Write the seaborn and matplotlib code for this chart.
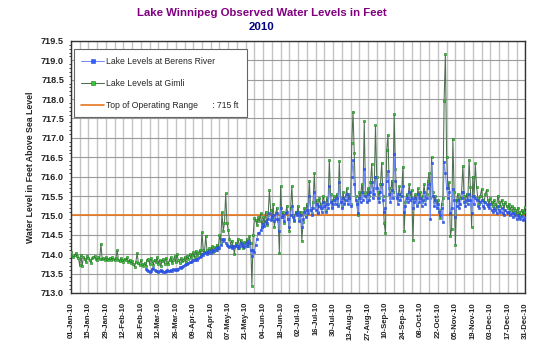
import pandas as pd
import numpy as np
import matplotlib
matplotlib.use("Agg")
import matplotlib.pyplot as plt
import matplotlib.dates as mdates
from matplotlib.ticker import MultipleLocator, FormatStrFormatter, FixedLocator
import seaborn as sns

# ---------------------------------------------------------------
# DATA  (daily water levels, feet above sea level)
# ---------------------------------------------------------------
gimli_jan = [714.05, 713.95, 713.92, 713.98, 714.03, 713.95, 713.90, 713.72, 713.97, 713.70,
             713.93, 713.88, 713.80, 713.96, 713.90, 713.85, 713.78, 713.90, 713.93, 713.95,
             713.88, 713.86, 713.92, 713.88, 714.27, 713.88, 713.90, 713.86, 713.92, 713.88, 713.85]
gimli_feb = [713.90, 713.85, 713.92, 713.88, 713.84, 713.90, 714.10, 713.86, 713.82, 713.90,
             713.85, 713.80, 713.88, 713.84, 713.92, 713.80, 713.86, 713.78, 713.82, 713.74,
             713.68, 713.80, 714.03, 713.78, 713.72, 713.85, 713.76, 713.70]
gimli_mar = [713.78, 713.70, 713.85, 713.88, 713.75, 713.90, 713.82, 713.72, 713.86, 713.80,
             713.92, 713.75, 713.85, 713.70, 713.82, 713.88, 713.76, 713.90, 713.80, 713.74,
             713.86, 713.92, 713.78, 713.84, 713.95, 713.80, 714.00, 713.85, 713.78, 713.90, 713.82]
gimli_apr = [713.85, 713.92, 713.80, 713.95, 713.88, 714.00, 713.90, 713.98, 714.05, 713.92,
             714.08, 713.98, 714.02, 714.10, 714.00, 714.56, 714.12, 714.05, 714.48, 714.10,
             714.02, 714.15, 714.08, 714.20, 714.05, 714.18, 714.12, 714.25, 714.15, 714.49]
gimli_may = [714.30, 715.08, 714.60, 714.80, 715.57, 714.80, 714.63, 714.40, 714.25, 714.35,
             714.20, 714.01, 714.30, 714.22, 714.40, 714.15, 714.37, 714.28, 714.17, 714.32,
             714.25, 714.40, 714.20, 714.46, 714.30, 713.19, 714.50, 714.93, 714.88, 714.76, 714.95]
gimli_jun = [714.85, 715.05, 714.70, 714.95, 714.80, 715.10, 714.75, 715.00, 715.65, 715.15,
             714.90, 715.30, 714.70, 715.05, 715.20, 714.85, 714.04, 715.75, 714.95, 715.10,
             714.80, 715.05, 715.25, 714.90, 714.60, 715.20, 715.76, 715.00, 714.85, 715.10]
gimli_jul = [715.05, 715.25, 714.90, 715.10, 714.35, 714.84, 715.20, 715.00, 715.30, 715.15,
             715.90, 715.20, 715.05, 715.35, 716.09, 715.25, 715.40, 715.10, 715.45, 715.30,
             715.20, 715.50, 715.35, 715.15, 715.45, 715.30, 716.43, 715.55, 715.25, 715.40, 715.50]
gimli_aug = [715.40, 715.55, 715.30, 716.41, 715.45, 715.25, 715.60, 715.35, 715.50, 715.70,
             715.40, 715.55, 715.30, 716.86, 717.68, 716.60, 715.50, 715.35, 715.00, 715.60,
             715.45, 715.80, 715.55, 717.43, 715.60, 715.40, 715.70, 715.50, 715.85, 716.33, 715.55]
gimli_sep = [715.70, 717.32, 716.00, 715.60, 715.45, 715.80, 716.36, 715.50, 714.80, 714.54,
             716.69, 717.08, 715.70, 715.45, 715.90, 715.60, 717.61, 716.20, 715.55, 715.40,
             715.75, 715.50, 715.60, 716.26, 714.61, 715.35, 715.55, 715.45, 715.80, 715.50]
gimli_oct = [715.65, 714.36, 715.40, 715.55, 715.30, 715.70, 715.45, 715.60, 715.35, 715.50,
             715.80, 715.40, 715.55, 715.90, 716.09, 715.45, 716.50, 715.60, 715.35, 715.50,
             715.25, 715.40, 715.15, 714.93, 715.30, 715.45, 717.96, 719.17, 716.50, 715.70, 715.85]
gimli_nov = [714.46, 714.65, 716.98, 715.60, 714.25, 715.40, 715.55, 715.30, 715.45, 715.60,
             716.28, 715.50, 715.35, 715.55, 715.40, 716.43, 715.74, 714.71, 716.00, 715.50,
             716.34, 715.74, 715.45, 715.30, 715.50, 715.68, 715.40, 715.35, 715.55, 715.66]
gimli_dec = [715.40, 715.30, 715.45, 715.35, 715.25, 715.40, 715.30, 715.20, 715.51, 715.35,
             715.25, 715.40, 715.30, 715.15, 715.35, 715.25, 715.20, 715.30, 715.15, 715.25,
             715.10, 715.20, 715.15, 715.05, 715.20, 715.10, 715.00, 715.15, 715.05, 715.10, 715.23]

# Berens River gauge starts on 02-Mar-10
berens_mar = [713.62, 713.60, 713.58, 713.55, 713.57, 713.62, 713.64, 713.60, 713.58, 713.56,
              713.55, 713.57, 713.60, 713.58, 713.55, 713.54, 713.57, 713.59, 713.56, 713.58,
              713.60, 713.58, 713.61, 713.59, 713.62, 713.60, 713.63, 713.66, 713.64, 713.68]
berens_apr = [713.70, 713.72, 713.75, 713.74, 713.78, 713.80, 713.79, 713.83, 713.85, 713.84,
              713.88, 713.86, 713.90, 713.92, 713.95, 714.00, 713.97, 714.02, 714.05, 714.00,
              714.06, 714.08, 714.03, 714.10, 714.12, 714.08, 714.15, 714.12, 714.18, 714.16]
berens_may = [714.25, 714.40, 714.35, 714.38, 714.30, 714.25, 714.22, 714.18, 714.20, 714.15,
              714.22, 714.18, 714.25, 714.20, 714.15, 714.22, 714.28, 714.20, 714.25, 714.18,
              714.30, 714.22, 714.35, 714.28, 714.10, 713.96, 714.11, 714.05, 714.25, 714.40, 714.55]
berens_jun = [714.55, 714.62, 714.70, 714.78, 714.72, 714.85, 714.80, 714.90, 715.05, 714.88,
              714.95, 715.00, 714.85, 714.92, 715.05, 714.90, 714.60, 715.20, 714.95, 715.00,
              714.85, 715.05, 715.10, 714.90, 714.70, 715.00, 715.25, 714.95, 714.88, 715.05]
berens_jul = [715.00, 715.10, 714.85, 715.00, 714.70, 714.90, 715.10, 714.95, 715.15, 715.05,
              715.50, 715.15, 715.00, 715.20, 715.60, 715.15, 715.30, 715.05, 715.25, 715.20,
              715.10, 715.35, 715.25, 715.10, 715.30, 715.20, 715.75, 715.35, 715.20, 715.30, 715.40]
berens_aug = [715.30, 715.45, 715.25, 715.85, 715.35, 715.20, 715.45, 715.30, 715.40, 715.55,
              715.30, 715.45, 715.25, 716.00, 716.43, 715.80, 715.40, 715.30, 715.05, 715.45,
              715.35, 715.60, 715.40, 716.21, 715.50, 715.35, 715.55, 715.40, 715.60, 715.85, 715.45]
berens_sep = [715.55, 716.00, 715.70, 715.45, 715.35, 715.60, 715.80, 715.40, 715.08, 715.20,
              715.90, 716.15, 715.55, 715.35, 715.65, 715.45, 716.58, 715.90, 715.45, 715.30,
              715.55, 715.40, 715.50, 715.75, 715.10, 715.25, 715.45, 715.35, 715.60, 715.40]
berens_oct = [715.45, 715.20, 715.35, 715.45, 715.25, 715.55, 715.35, 715.45, 715.25, 715.40,
              715.60, 715.30, 715.45, 715.70, 715.80, 714.90, 716.35, 715.50, 715.25, 715.40,
              715.20, 715.30, 715.10, 715.00, 715.20, 714.83, 716.39, 716.10, 715.70, 715.45, 715.60]
berens_nov = [715.05, 715.20, 715.69, 715.40, 714.95, 715.25, 715.40, 715.20, 715.30, 715.45,
              715.60, 715.35, 715.25, 715.40, 715.30, 715.55, 715.40, 715.05, 715.50, 715.30,
              715.45, 715.40, 715.25, 715.20, 715.35, 715.40, 715.25, 715.20, 715.35, 715.30]
berens_dec = [715.25, 715.20, 715.30, 715.15, 715.10, 715.20, 715.15, 715.05, 715.25, 715.15,
              715.10, 715.20, 715.05, 715.00, 715.15, 715.10, 715.05, 715.10, 715.00, 715.05,
              714.95, 715.05, 715.00, 714.90, 715.00, 714.95, 714.90, 714.98, 714.88, 714.92, 714.95]

operating_top = 715.0

gimli = (gimli_jan + gimli_feb + gimli_mar + gimli_apr + gimli_may + gimli_jun +
         gimli_jul + gimli_aug + gimli_sep + gimli_oct + gimli_nov + gimli_dec)
berens = (berens_mar + berens_apr + berens_may + berens_jun + berens_jul +
          berens_aug + berens_sep + berens_oct + berens_nov + berens_dec)

gimli_df = pd.DataFrame({"date": pd.date_range("2010-01-01", periods=len(gimli), freq="D"),
                         "level": gimli})
berens_df = pd.DataFrame({"date": pd.date_range("2010-03-02", periods=len(berens), freq="D"),
                          "level": berens})

# ---------------------------------------------------------------
# PLOT
# ---------------------------------------------------------------
sns.set_style("white")
plt.rcParams["font.family"] = ["Liberation Sans", "DejaVu Sans"]

fig = plt.figure(figsize=(5.5, 3.53), dpi=100)
ax = fig.add_axes([0.129, 0.170, 0.826, 0.714])

# Gimli drawn first so the Berens band shows through, as in the original
sns.lineplot(data=gimli_df, x="date", y="level", ax=ax, color="#4f6f52", lw=0.75,
             marker="s", markersize=2.1, markerfacecolor="#36c936",
             markeredgecolor="#1f7a1f", markeredgewidth=0.4,
             label="Lake Levels at Gimli", zorder=3)
sns.lineplot(data=berens_df, x="date", y="level", ax=ax, color="#7088ff", lw=0.7,
             marker="s", markersize=1.9, markerfacecolor="#2f5fff",
             markeredgecolor="#2a4ad0", markeredgewidth=0.4,
             label="Lake Levels at Berens River", zorder=4)
ax.axhline(operating_top, color="#e8761f", lw=1.2, zorder=2,
           label="Top of Operating Range      : 715 ft")

# axes
ax.set_xlim(pd.Timestamp("2010-01-01"), pd.Timestamp("2010-12-31"))
ax.set_ylim(713.0, 719.5)
ax.yaxis.set_major_locator(MultipleLocator(0.5))
ax.yaxis.set_minor_locator(MultipleLocator(0.1))
ax.yaxis.set_major_formatter(FormatStrFormatter("%.1f"))
ax.xaxis.set_major_locator(FixedLocator(
    mdates.date2num(pd.date_range("2010-01-01", "2010-12-31", freq="14D"))))
ax.xaxis.set_minor_locator(FixedLocator(
    mdates.date2num(pd.date_range("2010-01-08", "2010-12-31", freq="14D"))))
ax.xaxis.set_major_formatter(mdates.DateFormatter("%d-%b-%y"))

ax.grid(True, which="major", axis="y", color="#9a9a9a", lw=0.8)
ax.grid(True, which="both", axis="x", color="#c4c4c4", lw=1.0)
ax.set_axisbelow(True)

ax.tick_params(axis="x", which="major", labelsize=5.6, rotation=90, length=3, width=0.8, direction="out")
ax.tick_params(axis="x", which="minor", length=0)
ax.tick_params(axis="y", which="major", labelsize=6.6, length=3, width=0.8, pad=2)
ax.tick_params(axis="y", which="minor", length=1.5, width=0.6, left=True)
ax.tick_params(axis="both", colors="#222222")
for lab in ax.get_xticklabels() + ax.get_yticklabels():
    lab.set_fontweight("bold")

for s in ax.spines.values():
    s.set_color("#333333")
    s.set_linewidth(1.0)

ax.set_xlabel("")
ax.set_ylabel("Water Level in Feet Above Sea Level", fontsize=6.3, fontweight="bold", labelpad=4)

# legend, Berens listed first
handles, labels = ax.get_legend_handles_labels()
order = [labels.index("Lake Levels at Berens River"),
         labels.index("Lake Levels at Gimli"),
         labels.index("Top of Operating Range      : 715 ft")]
leg = ax.legend([handles[i] for i in order], [labels[i] for i in order],
                loc="upper left", bbox_to_anchor=(0.006, 0.968), fontsize=6.2,
                frameon=True, fancybox=False, framealpha=1.0, edgecolor="#666666",
                labelspacing=1.5, borderpad=0.9, handlelength=2.6, handletextpad=0.3,
                borderaxespad=0.0, markerscale=1.2)
leg.get_frame().set_linewidth(0.8)

# titles
fig.text(0.476, 0.962, "Lake Winnipeg Observed Water Levels in Feet", ha="center", va="center",
         fontsize=8.2, fontweight="bold", color="#800080")
fig.text(0.476, 0.923, "2010", ha="center", va="center",
         fontsize=8.2, fontweight="bold", color="#000080")

fig.savefig("out.png", dpi=100)
